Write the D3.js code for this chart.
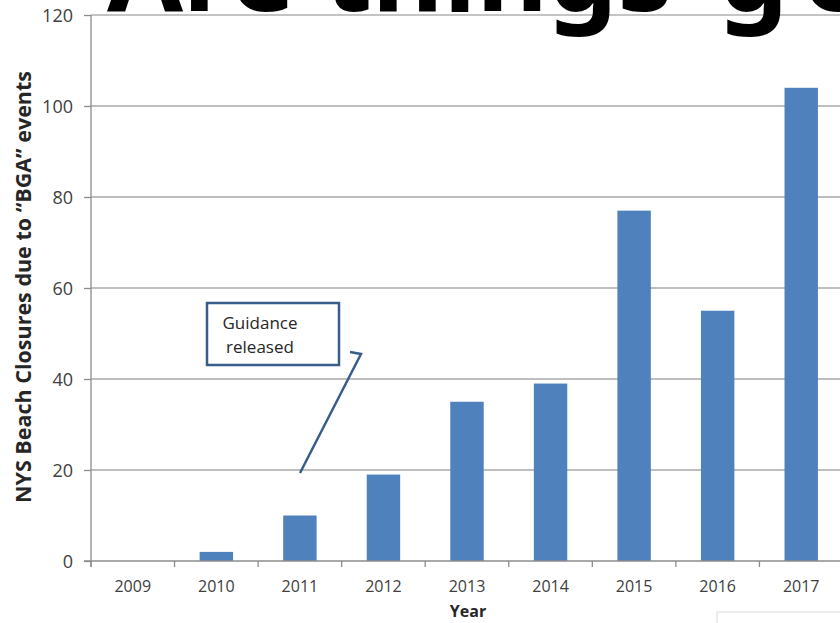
<!DOCTYPE html>
<html>
<head>
<meta charset="utf-8">
<script src="https://cdn.jsdelivr.net/npm/d3@7"></script>
<style>
  html, body { margin: 0; padding: 0; background: #fff; overflow: hidden; }
  svg { display: block; }
</style>
</head>
<body>
<svg id="chart" width="840" height="623"></svg>
<script>
// Yearly beach closures attributed to blue-green algae
const years = ["2009", "2010", "2011", "2012", "2013", "2014", "2015", "2016", "2017"];
const closures = [0, 2, 10, 19, 35, 39, 77, 55, 104];
const yTicks = [0, 20, 40, 60, 80, 100, 120];
const titleStart = "Are things";
const titleRest = "getting worse?";
const noteLines = ["Guidance", "released"];

const svg = d3.select("#chart");
const margin = { left: 91, right: -3, top: 15, bottom: 62 };
const W = 840, H = 623;
const tickFont = "'Open Sans', 'Noto Sans', sans-serif";
const labelFont = "'Open Sans', 'Noto Sans', sans-serif";
const axisGrey = "#8c8c8c";

const x = d3.scaleBand()
  .domain(years)
  .range([margin.left, W - margin.right])
  .paddingInner(0.6)
  .paddingOuter(0.3);

const y = d3.scaleLinear()
  .domain([0, 120])
  .range([H - margin.bottom, margin.top]);

// horizontal gridlines
svg.append("g")
  .selectAll("line")
  .data(yTicks.filter(d => d > 0))
  .join("line")
  .attr("x1", margin.left)
  .attr("x2", W)
  .attr("y1", d => y(d))
  .attr("y2", d => y(d))
  .attr("stroke", d => d === 120 ? "#c4c4c4" : "#a8a8a8")
  .attr("stroke-width", d => d === 120 ? 2 : 1.3);

// bars
svg.append("g")
  .selectAll("rect")
  .data(years.map((yr, i) => ({ yr, v: closures[i] })))
  .join("rect")
  .attr("x", d => x(d.yr))
  .attr("width", x.bandwidth())
  .attr("y", d => y(d.v))
  .attr("height", d => y(0) - y(d.v))
  .attr("fill", "#4f81bd");

// y axis
const yAxis = svg.append("g")
  .attr("transform", `translate(${margin.left},0)`)
  .call(d3.axisLeft(y).tickValues(yTicks).tickSize(7));
yAxis.select(".domain").attr("stroke", axisGrey).attr("stroke-width", 1.3)
  .attr("d", `M0,${y(120)}V${y(0) + 6}`);
yAxis.selectAll(".tick line").attr("stroke", axisGrey).attr("stroke-width", 1.3);
yAxis.selectAll(".tick text")
  .attr("font-family", tickFont)
  .attr("font-size", 18)
  .attr("fill", "#404040")
  .attr("x", -18)
  .attr("dy", "0.36em");

// x axis with ticks at category boundaries
const xAxisG = svg.append("g").attr("transform", `translate(0,${y(0)})`);
xAxisG.append("line")
  .attr("x1", margin.left - 7).attr("x2", W)
  .attr("y1", 0).attr("y2", 0)
  .attr("stroke", axisGrey).attr("stroke-width", 1.3);
const bounds = d3.range(years.length + 1).map(i => margin.left + i * x.step());
xAxisG.selectAll(".bnd")
  .data(bounds)
  .join("line")
  .attr("class", "bnd")
  .attr("x1", d => d).attr("x2", d => d)
  .attr("y1", 0).attr("y2", 6)
  .attr("stroke", axisGrey).attr("stroke-width", 1.3);
xAxisG.selectAll(".lbl")
  .data(years)
  .join("text")
  .attr("class", "lbl")
  .attr("x", d => x(d) + x.bandwidth() / 2)
  .attr("y", 31)
  .attr("text-anchor", "middle")
  .attr("font-family", tickFont)
  .attr("font-size", 16)
  .attr("fill", "#404040")
  .text(d => d);

// axis titles
svg.append("text")
  .attr("x", 468)
  .attr("y", 617)
  .attr("text-anchor", "middle")
  .attr("font-family", labelFont)
  .attr("font-weight", "bold")
  .attr("font-size", 16)
  .attr("fill", "#262626")
  .text("Year");

svg.append("text")
  .attr("transform", "translate(31,287) rotate(-90)")
  .attr("text-anchor", "middle")
  .attr("font-family", labelFont)
  .attr("font-weight", "bold")
  .attr("font-size", 21.5)
  .attr("fill", "#262626")
  .text("NYS Beach Closures due to \u201CBGA\u201D events");

// callout box and pointer
const note = svg.append("g");
note.append("rect")
  .attr("x", 207).attr("y", 303)
  .attr("width", 132).attr("height", 62)
  .attr("fill", "#fff")
  .attr("stroke", "#385d8a")
  .attr("stroke-width", 2.5);
note.selectAll("text")
  .data(noteLines)
  .join("text")
  .attr("x", 260)
  .attr("y", (d, i) => 329 + i * 24)
  .attr("text-anchor", "middle")
  .attr("font-family", labelFont)
  .attr("font-size", 17)
  .attr("fill", "#262626")
  .text(d => d);
note.append("path")
  .attr("d", d3.line()([[300, 473], [361, 354], [350, 352]]))
  .attr("fill", "none")
  .attr("stroke", "#385d8a")
  .attr("stroke-width", 2.5);

// faint frame in the lower-right corner
svg.append("path")
  .attr("d", "M717,623V612H840")
  .attr("fill", "none")
  .attr("stroke", "#d9d9d9")
  .attr("stroke-width", 1);

// heading, cut off by the top edge
const heading = svg.append("text")
  .attr("x", 107)
  .attr("y", 11)
  .attr("font-family", "'Noto Sans', 'Open Sans', sans-serif")
  .attr("font-weight", "bold")
  .attr("font-size", 110)
  .attr("fill", "#000");
heading.append("tspan").text(titleStart);
heading.append("tspan").attr("dx", 46).attr("letter-spacing", 14).text(titleRest);
</script>
</body>
</html>
